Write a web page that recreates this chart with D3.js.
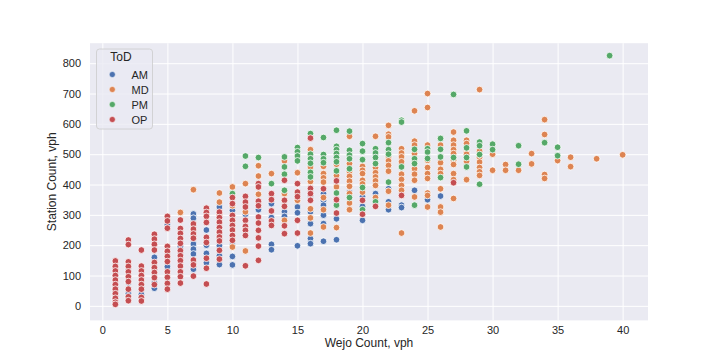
<!DOCTYPE html>
<html><head><meta charset="utf-8">
<script src="https://cdn.jsdelivr.net/npm/d3@7"></script>
<style>body{margin:0;background:#fff}svg text{font-family:Arial,"Liberation Sans",sans-serif;fill:#262626}</style>
</head><body><svg id="c" width="720" height="360"></svg>
<script>
const categories = ["AM","MD","PM","OP"];
const colors = ["#4c72b0","#dd8452","#55a868","#c44e52"];
const xTicks = [0,5,10,15,20,25,30,35,40];
const yTicks = [0,100,200,300,400,500,600,700,800];
// [Wejo Count, Station Count]
const amPoints = [[1,100],[1,60],[1,45],[1,30],[1,20],[2,118],[2,76],[2,40],[3,60],[3,38],[4,160],[4,120],[4,77],[4,58],
[5,267],[5,179],[5,129],[6,195],[6,170],[7,303],[7,289],[7,204],[7,187],[7,171],[7,121],[8,250],[8,200],[8,173],[8,142],
[9,326],[9,240],[9,198],[9,165],[9,136],[10,315],[10,200],[10,163],[10,135],[11,302],[12,317],[13,337],[13,291],[13,203],[13,185],
[14,310],[14,295],[15,326],[15,307],[15,198],[16,365],[16,310],[16,271],[16,222],[16,205],[17,370],[17,348],[17,332],[17,299],[17,271],[17,213],
[18,287],[18,218],[19,375],[20,328],[20,282],[20,360],[21,370],[22,386],[22,343],[22,317],[23,332],[23,324],[24,381],[25,350],[26,362]];
const mdPoints = [[6,308],[7,383],[9,372],[9,342],[9,300],[10,392],[10,330],[10,194],[11,403],[11,310],[11,181],[12,462],[12,428],[12,368],[13,436],
[14,478],[14,370],[14,282],[15,439],[15,348],[16,515],[16,458],[16,410],[16,320],[16,290],[16,240],
[17,460],[17,436],[17,422],[17,408],[17,357],[17,317],[17,260],[18,467],[18,430],[18,392],[18,258],
[19,559],[19,469],[19,442],[19,427],[19,411],[19,394],[19,370],[19,339],[19,317],[20,460],[20,447],[20,436],[20,414],[20,402],[20,375],
[21,559],[21,456],[21,439],[21,425],[21,412],[21,397],[21,357],[21,330],[22,595],[22,566],[22,557],[22,491],[22,478],[22,463],[22,444],[22,378],[22,332],
[23,518],[23,504],[23,491],[23,475],[23,434],[23,417],[23,397],[23,381],[23,240],[24,643],[24,543],[24,530],[24,502],[24,452],[24,434],[24,414],[24,359],
[25,700],[25,654],[25,530],[25,480],[25,456],[25,436],[25,420],[25,372],[25,364],[25,326],[26,530],[26,472],[26,450],[26,436],[26,386],[26,326],[26,309],[26,260],
[27,573],[27,546],[27,530],[27,515],[27,502],[27,480],[27,466],[27,436],[27,416],[27,354],[28,546],[28,535],[28,507],[28,500],[28,477],[28,416],
[29,713],[29,510],[29,490],[29,474],[29,456],[29,442],[29,430],[30,500],[30,447],[31,466],[31,447],[32,447],[33,502],[33,468],
[34,614],[34,565],[34,433],[34,420],[35,479],[36,490],[36,459],[38,485],[40,498]];
const pmPoints = [[10,370],[11,494],[11,460],[12,489],[13,403],[14,491],[14,458],[14,434],[14,381],[15,522],[15,508],[15,494],[15,478],
[16,568],[16,500],[16,485],[16,470],[16,440],[16,425],[17,555],[17,499],[17,485],[17,472],
[18,579],[18,526],[18,515],[18,502],[18,489],[18,475],[18,445],[18,372],[18,332],[19,576],[19,513],[19,497],[19,485],[19,452],[19,357],
[20,535],[20,510],[20,482],[20,390],[20,317],[21,518],[21,504],[21,489],[21,469],[21,343],[22,538],[22,515],[22,500],[22,408],
[23,612],[23,606],[23,458],[24,516],[24,485],[24,469],[24,332],[25,518],[25,507],[25,486],[26,552],[26,516],[26,491],[26,423],
[27,697],[27,489],[28,577],[28,521],[28,489],[28,458],[29,540],[29,528],[29,499],[29,401],[30,533],[30,515],[32,528],[32,467],
[34,538],[35,523],[35,495],[39,825]];
const opPoints = [[1,148],[1,130],[1,115],[1,100],[1,85],[1,70],[1,55],[1,40],[1,25],[1,12],[1,5],
[2,217],[2,202],[2,145],[2,130],[2,112],[2,96],[2,80],[2,55],[2,30],[2,17],
[3,184],[3,131],[3,115],[3,100],[3,85],[3,70],[3,55],[3,28],[3,16],
[4,236],[4,220],[4,203],[4,184],[4,143],[4,126],[4,110],[4,93],[4,70],
[5,295],[5,280],[5,256],[5,196],[5,180],[5,163],[5,146],[5,112],[5,94],[5,74],[5,55],
[6,283],[6,255],[6,239],[6,222],[6,206],[6,182],[6,165],[6,149],[6,131],[6,112],[6,96],[6,75],
[7,270],[7,253],[7,237],[7,223],[7,151],[7,135],[7,98],[8,322],[8,308],[8,295],[8,275],[8,226],[8,209],[8,157],[8,124],[8,72],
[9,309],[9,291],[9,276],[9,258],[9,243],[9,227],[9,214],[9,183],[9,154],[10,357],[10,337],[10,298],[10,282],[10,265],[10,250],[10,232],[10,216],
[11,361],[11,342],[11,326],[11,282],[11,262],[11,249],[11,232],[11,132],[12,403],[12,392],[12,345],[12,330],[12,293],[12,273],[12,249],[12,224],[12,197],[12,150],
[13,370],[13,350],[13,313],[13,280],[13,265],[14,414],[14,348],[14,328],[14,264],[14,238],[15,403],[15,375],[15,360],[15,282],[15,240],
[16,553],[16,387],[16,370],[16,348],[17,386],[18,412],[18,350],[18,306],[20,348],[20,302],[21,328],[23,364],[27,406]];
const seriesPoints = [amPoints, mdPoints, pmPoints, opPoints];

const svg = d3.select("#c");
const L=90, R=648, T=43.2, B=320.4;
const x = d3.scaleLinear().domain([-0.95,41.95]).range([L,R]);
const y = d3.scaleLinear().domain([-48,866]).range([B,T]);

svg.append("rect").attr("x",L).attr("y",T).attr("width",R-L).attr("height",B-T).attr("fill","#eaeaf2");
const gx = svg.append("g").attr("transform",`translate(0,${B})`)
  .call(d3.axisBottom(x).tickValues(xTicks).tickSize(-(B-T)).tickPadding(6).tickFormat(d3.format("d")));
const gy = svg.append("g").attr("transform",`translate(${L},0)`)
  .call(d3.axisLeft(y).tickValues(yTicks).tickSize(-(R-L)).tickPadding(9).tickFormat(d3.format("d")));
[gx,gy].forEach(g=>{g.select(".domain").remove();
  g.selectAll(".tick line").attr("stroke","#fff").attr("stroke-width",1);
  g.selectAll(".tick text").attr("font-size",11).attr("fill","#262626");});

const pts = svg.append("g");
seriesPoints.forEach((arr,i)=>{
  pts.selectAll(null).data(arr).enter().append("circle")
    .attr("cx",d=>x(d[0])).attr("cy",d=>y(d[1])).attr("r",3.35)
    .attr("fill",colors[i]).attr("stroke","#fff").attr("stroke-width",0.8);
});

svg.append("text").attr("x",(L+R)/2).attr("y",347).attr("text-anchor","middle").attr("font-size",12).text("Wejo Count, vph");
svg.append("text").attr("transform",`translate(56,${(T+B)/2}) rotate(-90)`).attr("text-anchor","middle").attr("font-size",12).text("Station Count, vph");

const lg = svg.append("g");
lg.append("rect").attr("x",96.5).attr("y",49).attr("width",56).attr("height",80).attr("rx",3)
  .attr("fill","#eaeaf2").attr("fill-opacity",0.8).attr("stroke","#cccccc").attr("stroke-width",0.8);
lg.append("text").attr("x",121).attr("y",61).attr("text-anchor","middle").attr("font-size",12).text("ToD");
categories.forEach((c,i)=>{
  const yy = 74.5 + i*15;
  lg.append("circle").attr("cx",112.3).attr("cy",yy).attr("r",3).attr("fill",colors[i]).attr("stroke","#fff").attr("stroke-width",0.5);
  lg.append("text").attr("x",131.5).attr("y",yy+4).attr("font-size",11).text(c);
});
</script></body></html>
